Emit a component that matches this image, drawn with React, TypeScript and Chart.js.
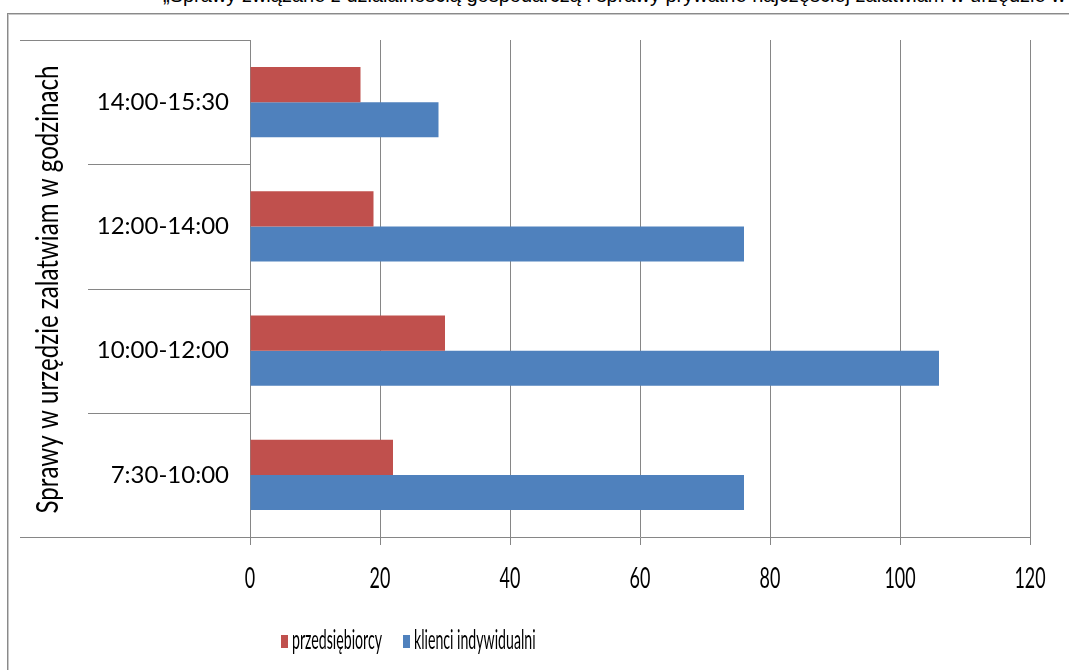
import React, { useEffect, useRef } from "react";
import { Chart, registerables } from "chart.js";

Chart.register(...registerables);

const categories = ["14:00-15:30", "12:00-14:00", "10:00-12:00", "7:30-10:00"];
const przedsiebiorcy = [17, 19, 30, 22];
const klienci = [29, 76, 106, 76];
const seriesNames = ["przedsiębiorcy", "klienci indywidualni"];
const seriesColors = ["#C0504D", "#4F81BD"];
const xMin = 0;
const xMax = 120;
const xStep = 20;
const axisTitle = "Sprawy w urzędzie zalatwiam w godzinach";
const topText =
  "„Sprawy związane z działalnością gospodarczą i sprawy prywatne najczęściej załatwiam w urzędzie w godzinach” – przedsiębiorcy i klienci indywidualni";

const LINE = "#868686";

const categoryLines = {
  id: "categoryLines",
  afterDraw(chart: any) {
    const y = chart.scales.y;
    const area = chart.chartArea;
    const ctx = chart.ctx;
    const n = chart.data.labels.length;
    ctx.save();
    ctx.strokeStyle = LINE;
    ctx.lineWidth = 1;
    ctx.beginPath();
    for (let i = 0; i <= n; i++) {
      const py = Math.round(y.getPixelForValue(i - 0.5)) + 0.5;
      const x0 = i === 0 || i === n ? 20 : 88;
      ctx.moveTo(x0, py);
      ctx.lineTo(area.left, py);
    }
    ctx.stroke();
    ctx.restore();
  },
};

// x tick labels, drawn condensed like the original
const xLabels = {
  id: "xLabels",
  afterDraw(chart: any) {
    const x = chart.scales.x;
    const ctx = chart.ctx;
    ctx.save();
    ctx.font = "28px Lato, sans-serif";
    ctx.fillStyle = "#000";
    ctx.textBaseline = "alphabetic";
    ctx.textAlign = "center";
    x.ticks.forEach((t: any) => {
      const px = x.getPixelForValue(t.value);
      ctx.save();
      ctx.translate(px, 588);
      ctx.scale(0.64, 1);
      ctx.fillText(String(t.value), 0, 0);
      ctx.restore();
    });
    ctx.restore();
  },
};

const yTitle = {
  id: "yTitle",
  afterDraw(chart: any) {
    const y = chart.scales.y;
    const ctx = chart.ctx;
    const cy = (y.top + y.bottom) / 2 + 1;
    ctx.save();
    ctx.font = "31px Lato, sans-serif";
    const w = ctx.measureText(axisTitle).width;
    ctx.translate(58, cy);
    ctx.rotate(-Math.PI / 2);
    ctx.scale(448 / w, 1);
    ctx.fillStyle = "#000";
    ctx.textAlign = "center";
    ctx.textBaseline = "alphabetic";
    ctx.fillText(axisTitle, 0, 0);
    ctx.restore();
  },
};

const customLegend = {
  id: "customLegend",
  afterDraw(chart: any) {
    const ctx = chart.ctx;
    const ds = chart.data.datasets;
    ctx.save();
    ctx.font = "26px Lato, sans-serif";
    const sx = 90 / ctx.measureText(ds[0].label).width;
    let x = 281;
    const baseline = 649;
    ctx.textBaseline = "alphabetic";
    ds.forEach((d: any) => {
      ctx.fillStyle = d.backgroundColor;
      ctx.fillRect(x, 635, 7, 13);
      const tx = x + 11;
      ctx.fillStyle = "#000";
      ctx.save();
      ctx.translate(tx, baseline);
      ctx.scale(sx, 1);
      ctx.fillText(d.label, 0, 0);
      ctx.restore();
      x = tx + ctx.measureText(d.label).width * sx + 21;
    });
    ctx.restore();
  },
};

export default function App() {
  const ref = useRef<HTMLCanvasElement>(null);

  useEffect(() => {
    document.body.style.margin = "0";
    const chart = new Chart(ref.current as HTMLCanvasElement, {
      type: "bar",
      data: {
        labels: categories,
        datasets: [
          {
            label: seriesNames[0],
            data: przedsiebiorcy,
            backgroundColor: seriesColors[0],
            categoryPercentage: 0.565,
            barPercentage: 1,
          },
          {
            label: seriesNames[1],
            data: klienci,
            backgroundColor: seriesColors[1],
            categoryPercentage: 0.565,
            barPercentage: 1,
          },
        ],
      },
      options: {
        indexAxis: "y",
        animation: false,
        responsive: false,
        layout: { padding: { left: 20, top: 40, right: 39, bottom: 0 } },
        plugins: {
          legend: { display: false },
          tooltip: { enabled: false },
        },
        scales: {
          x: {
            min: xMin,
            max: xMax,
            ticks: { stepSize: xStep, display: false },
            grid: { color: LINE, tickLength: 8 },
            border: { color: LINE },
            afterFit: (s: any) => {
              s.height = 133;
            },
          },
          y: {
            grid: { display: false, drawTicks: false },
            border: { display: false },
            ticks: {
              color: "#000",
              font: { family: "Lato, sans-serif", size: 24 },
              padding: 21,
            },
            afterFit: (s: any) => {
              s.width = 230;
            },
          },
        },
      } as any,
      plugins: [categoryLines, xLabels, yTitle, customLegend],
    });
    return () => chart.destroy();
  }, []);

  return (
    <div
      style={{
        position: "fixed",
        left: 0,
        top: 0,
        width: 1069,
        height: 670,
        overflow: "hidden",
        background: "#fff",
      }}
    >
      <div
        style={{
          position: "absolute",
          left: 163,
          top: -15,
          whiteSpace: "nowrap",
          fontFamily: "'Liberation Sans', Arial, sans-serif",
          fontSize: 20,
          lineHeight: "20px",
          color: "#000",
        }}
      >
        {topText}
      </div>
      <div
        style={{
          position: "absolute",
          left: 7,
          top: 13,
          width: 1120,
          height: 720,
          border: "1px solid #8a8a8a",
          boxShadow: "inset 1px 1px 0 #c8c8c8",
        }}
      />
      <canvas
        ref={ref}
        width={1069}
        height={670}
        style={{ position: "absolute", left: 0, top: 0, width: 1069, height: 670 }}
      />
    </div>
  );
}
